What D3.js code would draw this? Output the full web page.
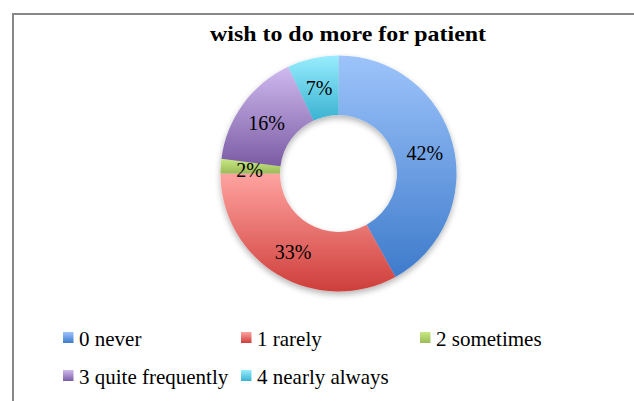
<!DOCTYPE html>
<html><head><meta charset="utf-8">
<script src="https://cdn.jsdelivr.net/npm/d3@7"></script>
<style>body{margin:0;background:#fff}svg{display:block}</style>
</head><body><svg id="c" width="634" height="401"></svg>
<script>
const title = "wish to do more for patient";
const categories = ["0 never","1 rarely","2 sometimes","3 quite frequently","4 nearly always"];
const values = [42,33,2,16,7];
const lightColors = ["#9DC4FB","#FFA3A0","#C9E983","#CFBAEF","#98EDFD"];
const darkColors  = ["#3E7BCB","#CE3E3A","#9BBB59","#7B5CA4","#3AB2D2"];

const svg = d3.select("#c");
const font = "'Liberation Serif','Times New Roman',serif";
svg.append("rect").attr("x",13).attr("y",14).attr("width",640).attr("height",400)
  .attr("fill","#fff").attr("stroke","#878787").attr("stroke-width",2);

svg.append("text").attr("x",348).attr("y",41).attr("text-anchor","middle")
  .attr("font-family",font).attr("font-weight","bold").attr("font-size",22)
  .attr("textLength",276).attr("lengthAdjust","spacingAndGlyphs").text(title);

const defs = svg.append("defs");
const f = defs.append("filter").attr("id","sh").attr("x","-20%").attr("y","-20%").attr("width","140%").attr("height","140%");
f.append("feGaussianBlur").attr("in","SourceAlpha").attr("stdDeviation",3);
f.append("feOffset").attr("dy",3).attr("result","b");
f.append("feComponentTransfer").append("feFuncA").attr("type","linear").attr("slope",0.3);
const m = f.append("feMerge"); m.append("feMergeNode"); m.append("feMergeNode").attr("in","SourceGraphic");

categories.forEach((c,i)=>{
  const g = defs.append("linearGradient").attr("id","g"+i).attr("x1",0).attr("y1",0).attr("x2",0).attr("y2",1);
  g.append("stop").attr("offset","0%").attr("stop-color",lightColors[i]);
  g.append("stop").attr("offset","100%").attr("stop-color",darkColors[i]);
});

const cx=338.5, cy=173.5, R=118, r=58.5;
const pie = d3.pie().sort(null).value(d=>d)(values);
const arc = d3.arc().innerRadius(r).outerRadius(R);
const lab = d3.arc().innerRadius(89).outerRadius(89);
const g = svg.append("g").attr("transform",`translate(${cx},${cy})`);
g.append("g").attr("filter","url(#sh)").selectAll("path").data(pie).join("path")
  .attr("d",arc).attr("fill",(d,i)=>`url(#g${i})`);
g.selectAll("text").data(pie).join("text")
  .attr("transform",d=>`translate(${lab.centroid(d)})`)
  .attr("text-anchor","middle").attr("dy","0.43em")
  .attr("font-family",font).attr("font-size",20).attr("fill","#000")
  .text(d=>d.value+"%");

const legX = [63,241,420,63,241];
const legY = [346,346,346,384,384];
const lg = svg.append("g");
categories.forEach((c,i)=>{
  const x=legX[i], y=legY[i];
  lg.append("rect").attr("x",x).attr("y",y-14).attr("width",10.5).attr("height",11).attr("fill",`url(#g${i})`);
  lg.append("text").attr("x",x+16).attr("y",y).attr("font-family",font).attr("font-size",21).text(c);
});
</script></body></html>
